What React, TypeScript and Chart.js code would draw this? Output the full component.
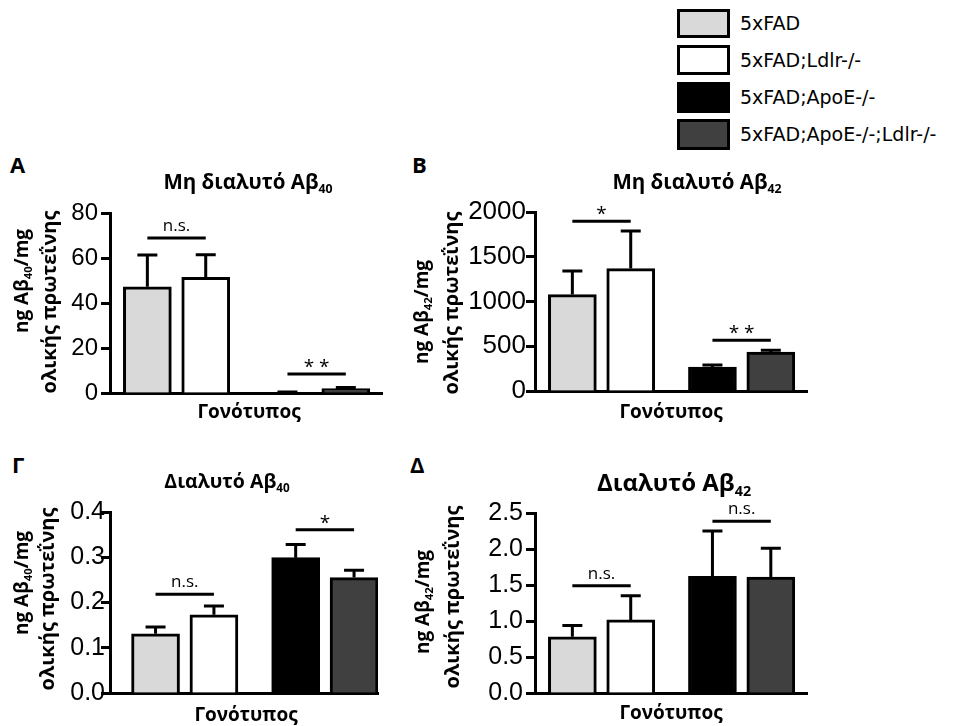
import React, { useEffect, useRef } from "react";
import { Chart, registerables } from "chart.js";
Chart.register(...registerables);

// ---------------- data ----------------
const genotypes = ["5xFAD", "5xFAD;Ldlr-/-", "5xFAD;ApoE-/-", "5xFAD;ApoE-/-;Ldlr-/-"];
const barColors = ["#d9d9d9", "#ffffff", "#000000", "#404040"];

// A: insoluble Aβ40
const insolAb40Means = [47.2, 51.4, 0.3, 2.0];
const insolAb40Sem = [14.1, 10.1, 0.2, 0.5];
const insolAb40Ticks = [0, 20, 40, 60, 80];
// B: insoluble Aβ42
const insolAb42Means = [1077, 1368, 268, 436];
const insolAb42Sem = [264, 420, 22, 19];
const insolAb42Ticks = [0, 500, 1000, 1500, 2000];
// Γ: soluble Aβ40
const solAb40Means = [0.131, 0.173, 0.299, 0.255];
const solAb40Sem = [0.015, 0.019, 0.029, 0.016];
const solAb40Ticks = [0, 0.1, 0.2, 0.3, 0.4];
// Δ: soluble Aβ42
const solAb42Means = [0.78, 1.015, 1.62, 1.61];
const solAb42Sem = [0.156, 0.335, 0.63, 0.4];
const solAb42Ticks = [0, 0.5, 1.0, 1.5, 2.0, 2.5];

// significance brackets: [fromBar, toBar, yValue, label]
const sigA: [number, number, number, string][] = [[0, 1, 68.9, "n.s."], [2, 3, 8.4, "**"]];
const sigB: [number, number, number, string][] = [[0, 1, 1896, "*"], [2, 3, 566, "**"]];
const sigC: [number, number, number, string][] = [[0, 1, 0.218, "n.s."], [2, 3, 0.361, "*"]];
const sigD: [number, number, number, string][] = [[0, 1, 1.49, "n.s."], [2, 3, 2.385, "n.s."]];

// slot positions of the 4 bars along x (two groups of two)
const slots = [1, 2, 3.4, 4.4];

const FONT = "'Open Sans', 'Noto Sans', sans-serif";
const TICKFONT = "'Liberation Sans', Arial, sans-serif";

type PanelProps = {
  area: { left: number; top: number; right: number; bottom: number };
  xMin: number; xMax: number;
  means: number[]; sem: number[]; ticks: number[]; decimals: number;
  sig: [number, number, number, string][];
  tickFont: number; tickPad: number;
};

const PAD = { left: 10, top: 30, right: 20, bottom: 30 };
const YW = 100;
const XH = 2;

function Panel(p: PanelProps) {
  const ref = useRef<HTMLCanvasElement | null>(null);
  const cLeft = p.area.left - YW - PAD.left;
  const cTop = p.area.top - PAD.top;
  const cW = p.area.right + PAD.right - cLeft;
  const cH = p.area.bottom + XH + PAD.bottom - cTop;
  useEffect(() => {
    if (!ref.current) return;
    const yMax = p.ticks[p.ticks.length - 1];
    const overlay = {
      id: "errAndSig",
      afterDatasetsDraw(chart: any) {
        const ctx = chart.ctx;
        const ys = chart.scales.y;
        const meta = chart.getDatasetMeta(0);
        ctx.save();
        ctx.strokeStyle = "#000";
        ctx.lineWidth = 3;
        ctx.lineCap = "butt";
        p.means.forEach((m, i) => {
          const el = meta.data[i];
          const x = el.x;
          const y0 = ys.getPixelForValue(m);
          const y1 = ys.getPixelForValue(m + p.sem[i]);
          ctx.beginPath();
          ctx.moveTo(x, y0);
          ctx.lineTo(x, y1);
          ctx.moveTo(x - 10, y1);
          ctx.lineTo(x + 10, y1);
          ctx.stroke();
        });
        p.sig.forEach(([a, b, v, label]) => {
          const xa = meta.data[a].x;
          const xb = meta.data[b].x;
          const y = ys.getPixelForValue(v);
          ctx.beginPath();
          ctx.moveTo(xa, y);
          ctx.lineTo(xb, y);
          ctx.stroke();
          ctx.fillStyle = "#000";
          ctx.textAlign = "center";
          ctx.textBaseline = "alphabetic";
          if (label === "n.s.") {
            ctx.font = `17px ${FONT}`;
            ctx.fillText(label, (xa + xb) / 2, y - 7);
          } else {
            ctx.font = `19px ${FONT}`;
            ctx.fillText(label.split("").join(" "), (xa + xb) / 2, y - 1);
          }
        });
        ctx.restore();
      },
    };
    const chart = new Chart(ref.current, {
      type: "bar",
      data: {
        datasets: [
          {
            label: "values",
            data: p.means.map((m, i) => ({ x: slots[i], y: m })),
            backgroundColor: barColors,
            borderColor: "#000",
            borderWidth: 3,
            barThickness: 48,
          },
        ],
      },
      options: {
        animation: false,
        responsive: false,
        maintainAspectRatio: false,
        layout: { padding: PAD },
        plugins: { legend: { display: false }, tooltip: { enabled: false }, title: { display: false } },
        scales: {
          x: {
            type: "linear",
            offset: false,
            min: p.xMin,
            max: p.xMax,
            ticks: { display: false },
            grid: { display: false, drawTicks: false },
            border: { display: true, color: "#000", width: 3 },
            afterFit: (s: any) => { s.height = XH; },
          },
          y: {
            min: 0,
            max: yMax,
            afterBuildTicks: (s: any) => { s.ticks = p.ticks.map((v) => ({ value: v })); },
            ticks: {
              color: "#000",
              font: { family: TICKFONT, size: p.tickFont },
              padding: p.tickPad,
              callback: (v: any) => Number(v).toFixed(p.decimals),
            },
            grid: { display: true, drawOnChartArea: false, drawTicks: true, tickLength: 9, tickWidth: 3, tickColor: "#000" },
            border: { display: true, color: "#000", width: 3 },
            afterFit: (s: any) => { s.width = YW; },
          },
        },
      },
      plugins: [overlay],
    } as any);
    return () => chart.destroy();
  }, []);
  return (
    <canvas
      ref={ref}
      width={cW}
      height={cH}
      style={{ position: "absolute", left: cLeft, top: cTop, width: cW, height: cH }}
    />
  );
}

// text placed by baseline (Open Sans, line-height 1)
function T(props: { x: number; base: number; size: number; bold?: boolean; align?: "left" | "center"; children: any; family?: string; k?: number }) {
  const k = props.k ?? 0.888;
  const top = props.base - k * props.size;
  const style: any = {
    position: "absolute",
    top,
    left: props.x,
    fontFamily: props.family ?? FONT,
    fontSize: props.size,
    fontWeight: props.bold ? 700 : 400,
    lineHeight: 1,
    whiteSpace: "nowrap",
    color: "#000",
  };
  if (props.align === "center") style.transform = "translateX(-50%)";
  return <div style={style}>{props.children}</div>;
}

function Sub({ t }: { t: string }) {
  return <span style={{ fontSize: "0.6em", verticalAlign: "-0.35em" }}>{t}</span>;
}

function YLabel(props: { cx: number; cy: number; size: number; children: any }) {
  return (
    <div
      style={{
        position: "absolute",
        left: props.cx,
        top: props.cy,
        transform: "translate(-50%, -50%) rotate(-90deg)",
        fontFamily: FONT,
        fontWeight: 700,
        fontSize: props.size,
        lineHeight: 1,
        whiteSpace: "nowrap",
        color: "#000",
      }}
    >
      {props.children}
    </div>
  );
}

function Legend() {
  const rows = [
    { top: 9, h: 29 },
    { top: 45, h: 30 },
    { top: 82, h: 31 },
    { top: 119, h: 31 },
  ];
  return (
    <>
      {genotypes.map((g, i) => (
        <React.Fragment key={g}>
          <div
            style={{
              position: "absolute",
              left: 677,
              top: rows[i].top,
              width: 53,
              height: rows[i].h,
              boxSizing: "border-box",
              border: "3px solid #000",
              background: barColors[i],
            }}
          />
          <T x={740} base={rows[i].top + rows[i].h / 2 + 7} size={19} family="'DejaVu Sans', sans-serif" k={0.846}>
            {g}
          </T>
        </React.Fragment>
      ))}
    </>
  );
}

export default function App() {
  return (
    <div style={{ position: "absolute", left: 0, top: 0, width: 954, height: 726, background: "#fff", overflow: "hidden" }}>
      <Panel area={{ left: 110, top: 213, right: 382, bottom: 393 }}
        xMin={0.36} xMax={5.02}
        means={insolAb40Means} sem={insolAb40Sem} ticks={insolAb40Ticks} decimals={0}
        sig={sigA} tickFont={24} tickPad={3} />
      <Panel area={{ left: 535, top: 212, right: 807, bottom: 391 }}
        xMin={0.36} xMax={5.02}
        means={insolAb42Means} sem={insolAb42Sem} ticks={insolAb42Ticks} decimals={0}
        sig={sigB} tickFont={26} tickPad={0} />
      <Panel area={{ left: 110, top: 512, right: 378, bottom: 693 }}
        xMin={0.22} xMax={4.81}
        means={solAb40Means} sem={solAb40Sem} ticks={solAb40Ticks} decimals={1}
        sig={sigC} tickFont={25} tickPad={-4} />
      <Panel area={{ left: 535, top: 513, right: 807, bottom: 693 }}
        xMin={0.36} xMax={5.02}
        means={solAb42Means} sem={solAb42Sem} ticks={solAb42Ticks} decimals={1}
        sig={sigD} tickFont={25} tickPad={3} />

      {/* panel letters */}
      <T x={10} base={173} size={22} bold>A</T>
      <T x={412} base={173} size={22} bold>B</T>
      <T x={12} base={473} size={22} bold>Γ</T>
      <T x={410} base={473} size={22} bold>Δ</T>

      {/* titles */}
      <T x={248} base={189} size={20.5} bold align="center">Μη διαλυτό Αβ<Sub t="40" /></T>
      <T x={697} base={189} size={20.5} bold align="center">Μη διαλυτό Αβ<Sub t="42" /></T>
      <T x={227} base={488} size={19.5} bold align="center">Διαλυτό Αβ<Sub t="40" /></T>
      <T x={674} base={491} size={24} bold align="center">Διαλυτό Αβ<Sub t="42" /></T>

      {/* x titles */}
      <T x={249} base={419} size={19} bold align="center">Γονότυπος</T>
      <T x={671} base={419} size={19} bold align="center">Γονότυπος</T>
      <T x={246} base={722} size={19} bold align="center">Γονότυπος</T>
      <T x={671} base={720} size={19} bold align="center">Γονότυπος</T>

      {/* y titles */}
      <YLabel cx={23} cy={281} size={19}>ng Aβ<Sub t="40" />/mg</YLabel>
      <YLabel cx={49} cy={302} size={20}>ολικής πρωτεΐνης</YLabel>
      <YLabel cx={423} cy={312} size={19}>ng Aβ<Sub t="42" />/mg</YLabel>
      <YLabel cx={451} cy={303} size={20}>ολικής πρωτεΐνης</YLabel>
      <YLabel cx={23} cy={583} size={19}>ng Aβ<Sub t="40" />/mg</YLabel>
      <YLabel cx={47} cy={599} size={20}>ολικής πρωτεΐνης</YLabel>
      <YLabel cx={424} cy={602} size={19}>ng Aβ<Sub t="42" />/mg</YLabel>
      <YLabel cx={452} cy={597} size={20}>ολικής πρωτεΐνης</YLabel>

      <Legend />
    </div>
  );
}
